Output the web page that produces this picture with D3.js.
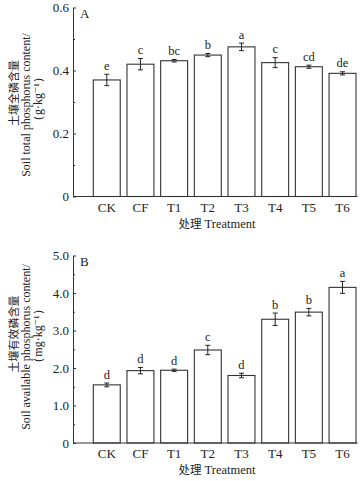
<!DOCTYPE html>
<html>
<head>
<meta charset="utf-8">
<script src="https://cdn.jsdelivr.net/npm/d3@7"></script>
<style>
body{margin:0;background:#fff;}
text{font-family:"Liberation Serif","DejaVu Serif",serif;fill:#222;}
.cn{font-family:"Noto Sans CJK SC",sans-serif;}
</style>
</head>
<body>
<svg id="chart" width="362" height="481"></svg>
<script>
// treatments
var cats = ["CK","CF","T1","T2","T3","T4","T5","T6"];

// panel A: total phosphorus (g/kg)
var totalP = [0.370,0.420,0.431,0.449,0.475,0.425,0.412,0.391];
var totalErr = [0.018,0.018,0.004,0.005,0.012,0.016,0.005,0.005];
var totalSig = ["e","c","bc","b","a","c","cd","de"];
var totalTicks = [0,0.2,0.4,0.6];
var totalMinor = [0.1,0.3,0.5];

// panel B: available phosphorus (mg/kg)
var availP = [1.55,1.93,1.94,2.48,1.80,3.30,3.49,4.15];
var availErr = [0.05,0.085,0.03,0.125,0.06,0.165,0.10,0.16];
var availSig = ["d","d","d","c","d","b","b","a"];
var availTicks = [0,1,2,3,4,5];
var availMinor = [0.5,1.5,2.5,3.5,4.5];

var svg = d3.select("#chart");
var axisX = 73;

var x = d3.scaleBand().domain(cats).range([93.3,356]).paddingInner(0.2);

var fmt = function(d){ return d===0 ? "0" : d.toFixed(1); };

var drawPanel = function(opt){
  var y = d3.scaleLinear().domain(opt.domain).range(opt.range);
  var g = svg.append("g");

  // bars
  g.selectAll("rect.bar").data(cats).enter().append("rect")
    .attr("class","bar")
    .attr("x",function(d){return x(d);})
    .attr("width",x.bandwidth())
    .attr("y",function(d,i){return y(opt.vals[i]);})
    .attr("height",function(d,i){return y(0)-y(opt.vals[i]);})
    .style("fill","#fff").style("stroke","#333").style("stroke-width",1.1);

  // error bars
  var eb = g.selectAll("g.err").data(cats).enter().append("g").attr("class","err");
  eb.append("line")
    .attr("x1",function(d){return x(d)+x.bandwidth()/2;})
    .attr("x2",function(d){return x(d)+x.bandwidth()/2;})
    .attr("y1",function(d,i){return y(opt.vals[i]+opt.err[i]);})
    .attr("y2",function(d,i){return y(opt.vals[i]-opt.err[i]);});
  [1,-1].forEach(function(s){
    eb.append("line")
      .attr("x1",function(d){return x(d)+x.bandwidth()/2-2.5;})
      .attr("x2",function(d){return x(d)+x.bandwidth()/2+2.5;})
      .attr("y1",function(d,i){return y(opt.vals[i]+s*opt.err[i]);})
      .attr("y2",function(d,i){return y(opt.vals[i]+s*opt.err[i]);});
  });
  eb.selectAll("line").style("stroke","#222").style("stroke-width",1);

  // significance letters
  g.selectAll("text.sig").data(cats).enter().append("text")
    .attr("class","sig")
    .attr("x",function(d){return x(d)+x.bandwidth()/2;})
    .attr("y",function(d,i){return y(opt.vals[i]+opt.err[i])-4.5;})
    .attr("text-anchor","middle")
    .style("font-size","12.5px")
    .text(function(d,i){return opt.sig[i];});

  // y axis
  var yAxis = g.append("g").attr("transform","translate("+axisX+",0)")
    .call(d3.axisLeft(y).tickValues(opt.ticks).tickFormat(fmt).tickSizeInner(-3).tickSizeOuter(0).tickPadding(4));
  yAxis.selectAll("text").style("font-size","13px").style("fill","#222");
  yAxis.selectAll("line,path").style("stroke","#333");
  var minor = g.append("g").attr("transform","translate("+axisX+",0)")
    .call(d3.axisLeft(y).tickValues(opt.minor).tickFormat("").tickSize(-2));
  minor.select(".domain").remove();
  minor.selectAll("line").style("stroke","#333");

  // x baseline + labels
  g.append("line").attr("x1",axisX).attr("x2",357.5)
    .attr("y1",y(0)).attr("y2",y(0)).style("stroke","#333");
  var xAxis = g.append("g").attr("transform","translate(0,"+y(0)+")")
    .call(d3.axisBottom(x).tickSize(0).tickPadding(6));
  xAxis.select(".domain").remove();
  xAxis.selectAll("text").style("font-size","13px").style("fill","#222");

  // panel letter
  g.append("text").attr("x",80).attr("y",y.range()[1]+10).style("font-size","13px").text(opt.label);

  // x title
  var xt = g.append("text").attr("x",217).attr("y",y(0)+31).attr("text-anchor","middle").style("font-size","12.5px");
  xt.append("tspan").attr("class","cn").style("font-size","11.5px").text("处理");
  xt.append("tspan").text(" Treatment");

  // y title (three rotated lines)
  opt.ytitle.forEach(function(t,i){
    g.append("text")
      .attr("class",i===0?"cn":null)
      .attr("transform","translate("+(18+i*12)+","+opt.ycenter[i]+") rotate(-90)")
      .attr("text-anchor","middle")
      .style("font-size",i===0?"11px":"12px")
      .text(t);
  });
};

drawPanel({domain:[0,0.6],range:[196.5,7.5],vals:totalP,err:totalErr,sig:totalSig,
  ticks:totalTicks,minor:totalMinor,label:"A",
  ytitle:["土壤全磷含量","Soil total phosphorus content/","（g·kg⁻¹）"],ycenter:[93,105,99]});

drawPanel({domain:[0,5],range:[443,255.5],vals:availP,err:availErr,sig:availSig,
  ticks:availTicks,minor:availMinor,label:"B",
  ytitle:["土壤有效磷含量","Soil available phosphorus content/","（mg·kg⁻¹）"],ycenter:[334,347,336]});
</script>
</body>
</html>
